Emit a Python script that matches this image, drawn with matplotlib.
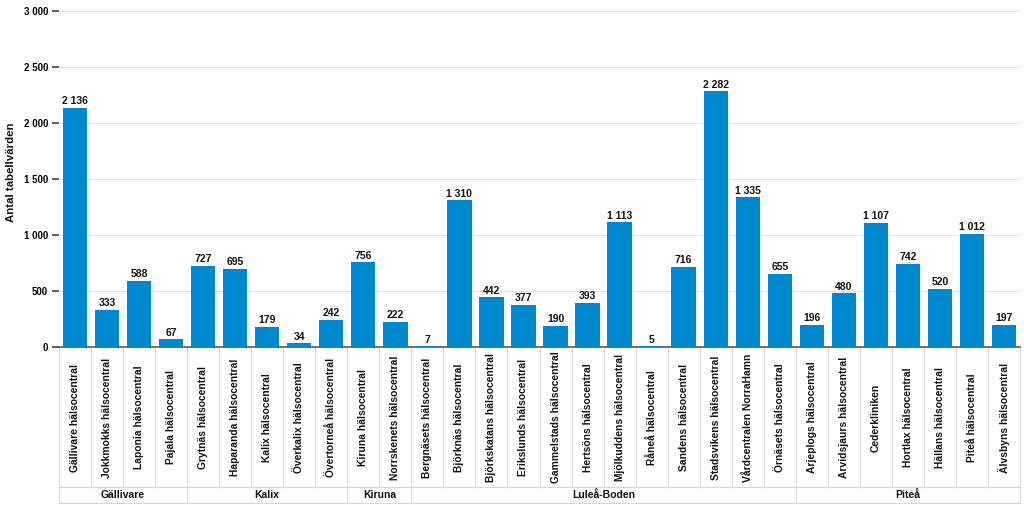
import matplotlib
matplotlib.use("Agg")
import matplotlib.pyplot as plt
from matplotlib.transforms import blended_transform_factory

plt.rcParams['font.family'] = ['Liberation Sans', 'DejaVu Sans']

categories = [
    "Gällivare hälsocentral", "Jokkmokks hälsocentral", "Laponia hälsocentral", "Pajala hälsocentral",
    "Grytnäs hälsocentral", "Haparanda hälsocentral", "Kalix hälsocentral", "Överkalix hälsocentral",
    "Övertorneå hälsocentral",
    "Kiruna hälsocentral", "Norrskenets hälsocentral",
    "Bergnäsets hälsocentral", "Björknäs hälsocentral", "Björkskatans hälsocentral", "Erikslunds hälsocentral",
    "Gammelstads hälsocentral", "Hertsöns hälsocentral", "Mjölkuddens hälsocentral", "Råneå hälsocentral",
    "Sandens hälsocentral", "Stadsvikens hälsocentral", "Vårdcentralen NorraHamn", "Örnäsets hälsocentral",
    "Arjeplogs hälsocentral", "Arvidsjaurs hälsocentral", "Cederkliniken", "Hortlax hälsocentral",
    "Hällans hälsocentral", "Piteå hälsocentral", "Älvsbyns hälsocentral",
]
values = [2136, 333, 588, 67, 727, 695, 179, 34, 242, 756, 222,
          7, 1310, 442, 377, 190, 393, 1113, 5, 716, 2282, 1335, 655,
          196, 480, 1107, 742, 520, 1012, 197]
groups = ["Gällivare", "Kalix", "Kiruna", "Luleå-Boden", "Piteå"]
group_sizes = [4, 5, 2, 12, 7]
yticks = [0, 500, 1000, 1500, 2000, 2500, 3000]

def fmt(v):
    return f"{v:,}".replace(",", " ")

W, H = 1024, 505
fig = plt.figure(figsize=(W / 100, H / 100), dpi=100)
ax = fig.add_axes([59 / W, (H - 347) / H, (1020 - 59) / W, (347 - 11) / H])

bar_color = "#0088CE"
x = list(range(len(values)))
ax.bar(x, values, width=0.76, color=bar_color, zorder=3)
ax.set_xlim(-0.5, len(values) - 0.5)
ax.set_ylim(0, 3000)

for xi, v in zip(x, values):
    ax.text(xi, v + 15, fmt(v), ha="center", va="bottom", fontsize=7.5,
            fontweight="bold", color="#111111", zorder=4)

ax.set_yticks(yticks)
ax.set_yticklabels([fmt(t) for t in yticks], fontsize=7, fontweight="bold")
ax.tick_params(axis="y", length=5, width=1.2, color="#444444", pad=3)
ax.set_xticks([])
ax.grid(axis="y", color="#e0e0e0", linewidth=0.8, zorder=0)
for s in ["top", "right", "left"]:
    ax.spines[s].set_visible(False)
ax.spines["bottom"].set_color("#555555")
ax.spines["bottom"].set_linewidth(1.2)

fig.text(11 / W, (H - 172) / H, "Antal tabellvärden", rotation=90, ha="center", va="center",
         fontsize=8.2, fontweight="bold", color="#111111")

# category table below the axis
trans = blended_transform_factory(ax.transData, fig.transFigure)
y_top = (H - 348) / H
y_mid = (H - 487) / H
y_bot = (H - 503) / H
lc = "#d8d8d8"
n = len(values)
for i in range(n + 1):
    ax.plot([i - 0.5, i - 0.5], [y_top, y_mid], transform=trans, color=lc,
            linewidth=0.8, clip_on=False)
ax.plot([-0.5, n - 0.5], [y_mid, y_mid], transform=trans, color=lc, linewidth=0.8, clip_on=False)
ax.plot([-0.5, n - 0.5], [y_bot, y_bot], transform=trans, color=lc, linewidth=0.8, clip_on=False)
for xi, c in zip(x, categories):
    ax.text(xi, (y_top + y_mid) / 2, c, transform=trans, rotation=90, ha="center",
            va="center", fontsize=7.4, fontweight="bold", color="#111111")
start = 0
for g, sz in zip(groups, group_sizes):
    end = start + sz
    ax.plot([start - 0.5, start - 0.5], [y_mid, y_bot], transform=trans, color=lc,
            linewidth=0.8, clip_on=False)
    ax.text((start + end - 1) / 2, (y_mid + y_bot) / 2, g, transform=trans, ha="center",
            va="center", fontsize=7.5, fontweight="bold", color="#111111")
    start = end
ax.plot([n - 0.5, n - 0.5], [y_mid, y_bot], transform=trans, color=lc, linewidth=0.8, clip_on=False)

fig.savefig("out.png", dpi=100)
